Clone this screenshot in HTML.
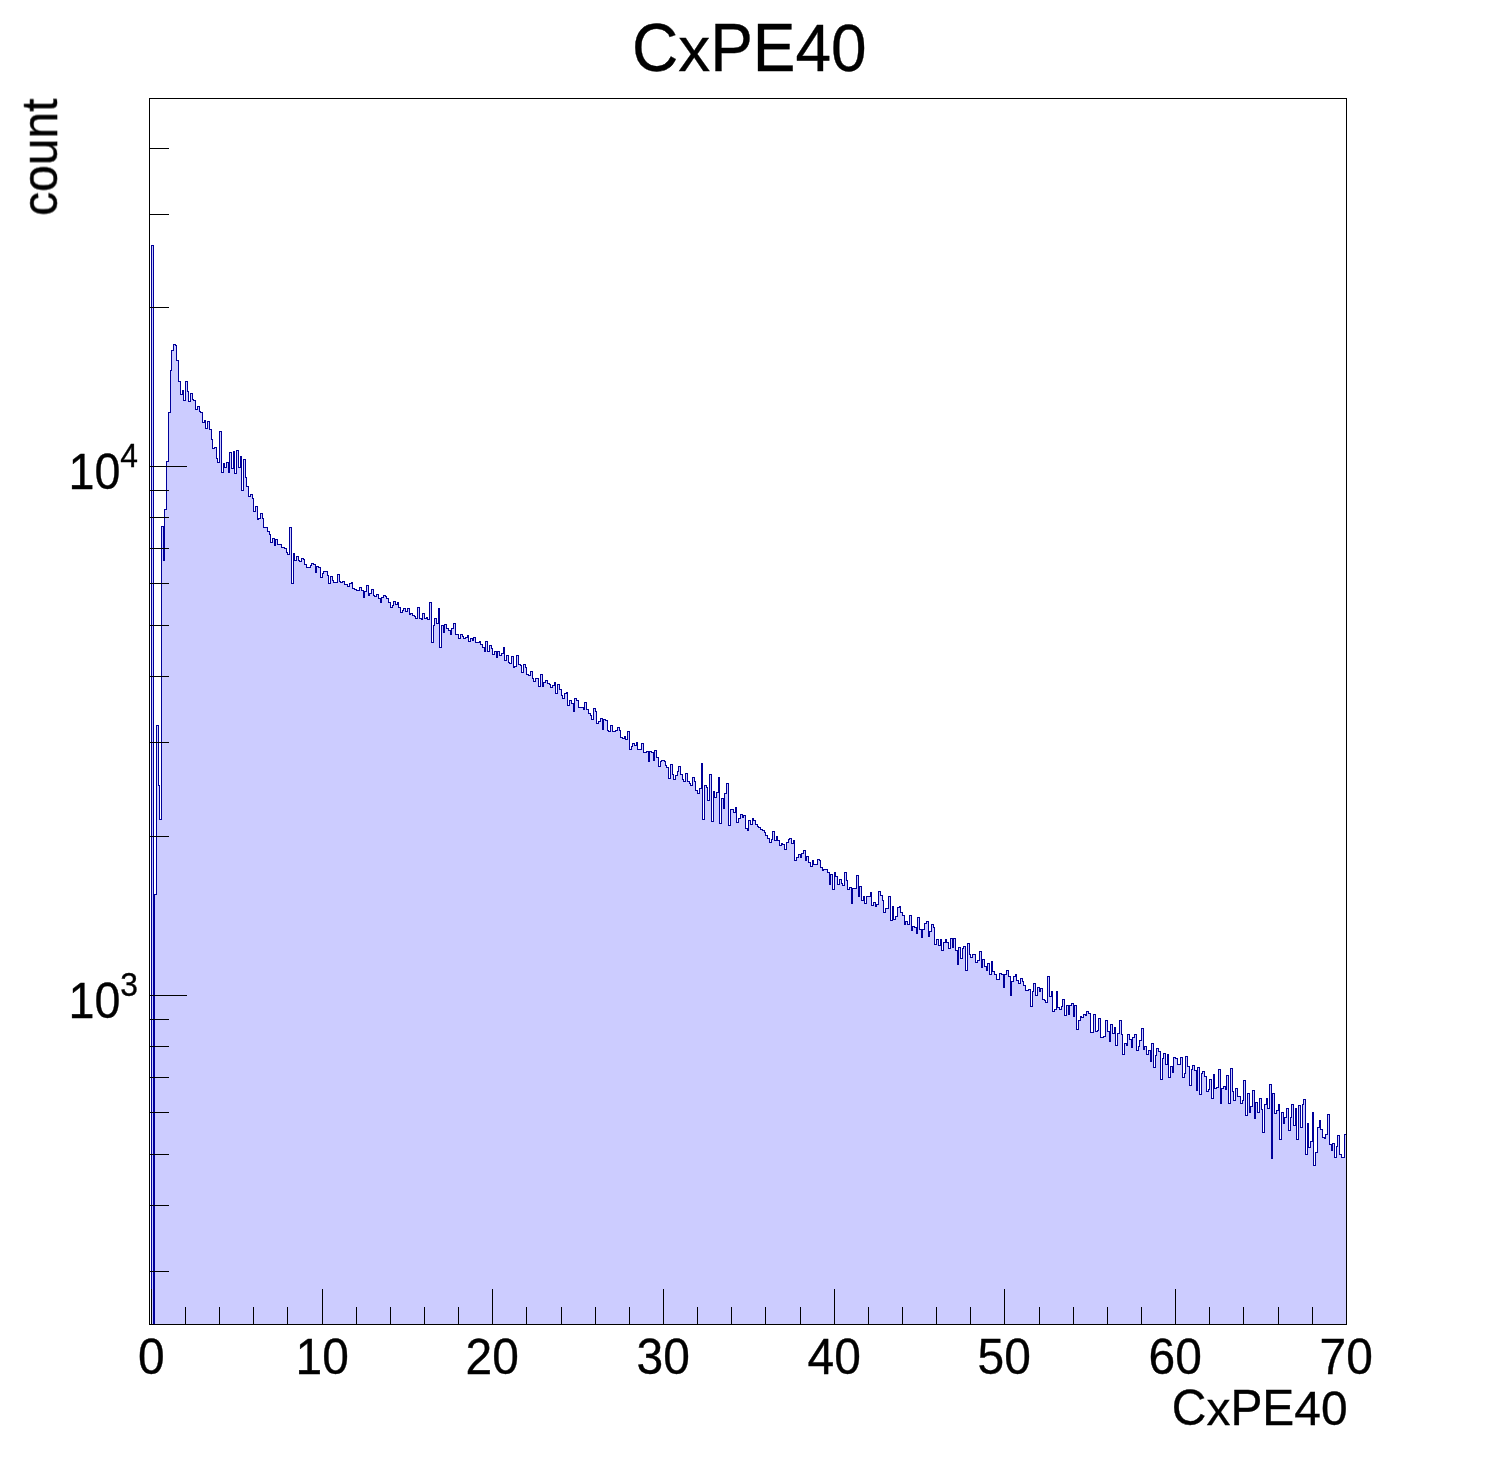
<!DOCTYPE html>
<html><head><meta charset="utf-8"><title>CxPE40</title>
<style>
html,body{margin:0;padding:0;background:#fff;}
body{width:1496px;height:1472px;overflow:hidden;}
svg{display:block;}
text{font-family:"Liberation Sans",sans-serif;fill:#000;stroke:#000;stroke-width:0.35px;}
</style></head><body>
<svg width="1496" height="1472" viewBox="0 0 1496 1472">
<rect width="1496" height="1472" fill="#fff"/>
<path d="M151.5 1324.5V245.5H153.5V1324.5H154.5V894.5H156.5V725.5H158.5V785.5H159.5V819.5H161.5V526.5H163.5V560.5H164.5V509.5H166.5V461.5H168.5V412.5H170.5V370.5H171.5V350.5H173.5V344.5H175.5V345.5H176.5V360.5H178.5V381.5H180.5V394.5H182.5V390.5H183.5V400.5H185.5V381.5H187.5V391.5H188.5V401.5H190.5V393.5H192.5V399.5H193.5V400.5H195.5V409.5H197.5V406.5H199.5V411.5H200.5V412.5H202.5V422.5H204.5V420.5H205.5V428.5H207.5V421.5H209.5V429.5H211.5V439.5H212.5V448.5H214.5V447.5H216.5V458.5H217.5V462.5H219.5V431.5H221.5V472.5H223.5V463.5H224.5V467.5H226.5V462.5H228.5V472.5H229.5V452.5H231.5V468.5H233.5V451.5H234.5V473.5H236.5V450.5H238.5V467.5H240.5V456.5H241.5V490.5H243.5V459.5H245.5V477.5H246.5V486.5H248.5V496.5H250.5V494.5H252.5V498.5H253.5V511.5H255.5V506.5H257.5V519.5H258.5V518.5H260.5V513.5H262.5V518.5H263.5V527.5H265.5V527.5H267.5V531.5H269.5V534.5H270.5V542.5H272.5V538.5H274.5V545.5H275.5V539.5H277.5V544.5H279.5V544.5H281.5V547.5H282.5V547.5H284.5V548.5H286.5V552.5H287.5V554.5H289.5V527.5H291.5V583.5H293.5V553.5H294.5V560.5H296.5V556.5H298.5V560.5H299.5V561.5H301.5V558.5H303.5V559.5H304.5V564.5H306.5V567.5H308.5V567.5H310.5V565.5H311.5V563.5H313.5V564.5H315.5V572.5H316.5V566.5H318.5V567.5H320.5V577.5H322.5V573.5H323.5V571.5H325.5V571.5H327.5V575.5H328.5V583.5H330.5V576.5H332.5V580.5H333.5V582.5H335.5V582.5H337.5V574.5H339.5V581.5H340.5V582.5H342.5V581.5H344.5V584.5H345.5V584.5H347.5V586.5H349.5V583.5H351.5V582.5H352.5V588.5H354.5V589.5H356.5V590.5H357.5V590.5H359.5V587.5H361.5V590.5H363.5V597.5H364.5V591.5H366.5V585.5H368.5V595.5H369.5V593.5H371.5V589.5H373.5V595.5H374.5V596.5H376.5V594.5H378.5V598.5H380.5V602.5H381.5V597.5H383.5V595.5H385.5V596.5H386.5V598.5H388.5V602.5H390.5V607.5H392.5V605.5H393.5V601.5H395.5V604.5H397.5V602.5H398.5V607.5H400.5V612.5H402.5V610.5H403.5V608.5H405.5V611.5H407.5V608.5H409.5V614.5H410.5V613.5H412.5V615.5H414.5V616.5H415.5V618.5H417.5V607.5H419.5V618.5H421.5V619.5H422.5V613.5H424.5V618.5H426.5V617.5H427.5V619.5H429.5V602.5H431.5V642.5H433.5V625.5H434.5V618.5H436.5V623.5H438.5V608.5H439.5V647.5H441.5V625.5H443.5V632.5H444.5V624.5H446.5V628.5H448.5V630.5H450.5V634.5H451.5V628.5H453.5V623.5H455.5V634.5H458.5V638.5H460.5V634.5H462.5V636.5H463.5V638.5H465.5V637.5H467.5V635.5H468.5V641.5H470.5V638.5H472.5V640.5H473.5V637.5H475.5V642.5H479.5V641.5H480.5V644.5H482.5V647.5H484.5V651.5H485.5V641.5H487.5V651.5H489.5V645.5H491.5V648.5H492.5V654.5H494.5V651.5H496.5V657.5H497.5V651.5H499.5V655.5H501.5V653.5H503.5V647.5H504.5V660.5H506.5V655.5H508.5V662.5H509.5V663.5H511.5V656.5H513.5V667.5H514.5V666.5H516.5V655.5H518.5V664.5H520.5V665.5H521.5V672.5H523.5V664.5H525.5V667.5H526.5V674.5H528.5V675.5H530.5V671.5H532.5V678.5H533.5V681.5H535.5V678.5H538.5V686.5H540.5V674.5H542.5V686.5H543.5V682.5H545.5V680.5H547.5V683.5H549.5V684.5H550.5V687.5H552.5V685.5H554.5V682.5H555.5V693.5H557.5V684.5H559.5V689.5H561.5V695.5H562.5V698.5H564.5V693.5H566.5V692.5H567.5V705.5H569.5V700.5H571.5V703.5H573.5V711.5H574.5V698.5H576.5V700.5H578.5V707.5H583.5V709.5H584.5V702.5H586.5V709.5H588.5V713.5H590.5V715.5H591.5V719.5H593.5V708.5H595.5V711.5H596.5V723.5H598.5V721.5H600.5V718.5H602.5V729.5H603.5V719.5H605.5V720.5H607.5V730.5H608.5V731.5H610.5V725.5H612.5V731.5H615.5V730.5H617.5V727.5H619.5V730.5H620.5V737.5H622.5V738.5H624.5V736.5H625.5V739.5H627.5V731.5H629.5V749.5H631.5V746.5H632.5V743.5H634.5V745.5H636.5V742.5H637.5V749.5H641.5V743.5H643.5V752.5H646.5V751.5H648.5V761.5H649.5V751.5H651.5V752.5H653.5V760.5H654.5V750.5H656.5V757.5H658.5V766.5H660.5V761.5H661.5V760.5H664.5V761.5H665.5V765.5H666.5V767.5H668.5V778.5H670.5V764.5H672.5V774.5H673.5V779.5H675.5V775.5H677.5V771.5H678.5V766.5H680.5V774.5H682.5V779.5H683.5V781.5H685.5V773.5H687.5V781.5H689.5V783.5H690.5V785.5H692.5V777.5H694.5V781.5H695.5V790.5H697.5V793.5H699.5V788.5H701.5V763.5H702.5V819.5H704.5V785.5H706.5V787.5H707.5V800.5H709.5V774.5H711.5V821.5H713.5V791.5H714.5V797.5H716.5V792.5H718.5V777.5H719.5V823.5H721.5V798.5H723.5V808.5H724.5V793.5H726.5V783.5H728.5V825.5H730.5V809.5H733.5V812.5H735.5V807.5H736.5V822.5H738.5V818.5H740.5V814.5H742.5V817.5H743.5V815.5H745.5V828.5H747.5V830.5H748.5V820.5H750.5V824.5H752.5V818.5H753.5V820.5H755.5V824.5H757.5V826.5H758.5V827.5H760.5V829.5H762.5V830.5H764.5V832.5H765.5V835.5H767.5V838.5H769.5V842.5H771.5V839.5H772.5V831.5H774.5V840.5H776.5V836.5H777.5V840.5H779.5V845.5H781.5V843.5H782.5V844.5H784.5V849.5H786.5V842.5H788.5V839.5H789.5V838.5H791.5V843.5H793.5V840.5H794.5V860.5H796.5V857.5H798.5V854.5H800.5V857.5H801.5V853.5H803.5V850.5H805.5V860.5H806.5V856.5H808.5V862.5H810.5V866.5H812.5V860.5H813.5V864.5H817.5V859.5H819.5V860.5H820.5V867.5H822.5V870.5H823.5V869.5H827.5V872.5H829.5V884.5H830.5V874.5H832.5V889.5H834.5V872.5H835.5V876.5H837.5V884.5H839.5V879.5H841.5V883.5H842.5V885.5H844.5V872.5H846.5V880.5H847.5V889.5H849.5V887.5H851.5V903.5H852.5V888.5H856.5V875.5H858.5V896.5H859.5V886.5H861.5V900.5H863.5V896.5H864.5V903.5H866.5V896.5H870.5V892.5H871.5V905.5H873.5V902.5H875.5V906.5H876.5V904.5H878.5V891.5H880.5V895.5H882.5V900.5H883.5V912.5H885.5V908.5H888.5V896.5H890.5V920.5H892.5V906.5H893.5V919.5H895.5V916.5H897.5V907.5H899.5V906.5H900.5V912.5H902.5V915.5H904.5V924.5H905.5V921.5H907.5V924.5H909.5V915.5H911.5V930.5H912.5V926.5H914.5V927.5H916.5V933.5H917.5V917.5H919.5V929.5H921.5V937.5H922.5V929.5H924.5V923.5H926.5V921.5H928.5V936.5H929.5V931.5H931.5V924.5H933.5V927.5H934.5V944.5H936.5V939.5H938.5V945.5H940.5V939.5H941.5V950.5H943.5V942.5H945.5V939.5H946.5V942.5H948.5V948.5H950.5V938.5H952.5V947.5H953.5V938.5H955.5V950.5H957.5V964.5H958.5V947.5H960.5V958.5H962.5V948.5H963.5V946.5H965.5V970.5H967.5V943.5H969.5V954.5H970.5V957.5H972.5V954.5H975.5V962.5H977.5V960.5H979.5V951.5H981.5V967.5H982.5V959.5H984.5V966.5H986.5V970.5H987.5V963.5H989.5V974.5H991.5V961.5H992.5V971.5H994.5V974.5H996.5V979.5H999.5V973.5H1001.5V974.5H1003.5V987.5H1004.5V974.5H1006.5V970.5H1008.5V976.5H1010.5V995.5H1011.5V981.5H1013.5V976.5H1015.5V974.5H1016.5V980.5H1018.5V983.5H1020.5V978.5H1022.5V981.5H1023.5V985.5H1025.5V990.5H1028.5V989.5H1030.5V1006.5H1032.5V991.5H1033.5V983.5H1035.5V995.5H1037.5V987.5H1039.5V991.5H1040.5V988.5H1042.5V999.5H1044.5V1000.5H1045.5V1002.5H1047.5V976.5H1049.5V996.5H1051.5V991.5H1052.5V1011.5H1054.5V1009.5H1056.5V991.5H1057.5V1007.5H1059.5V1009.5H1061.5V1006.5H1062.5V999.5H1064.5V1015.5H1066.5V1005.5H1068.5V1014.5H1069.5V1005.5H1071.5V1003.5H1073.5V1016.5H1074.5V1005.5H1076.5V1029.5H1078.5V1020.5H1080.5V1016.5H1081.5V1017.5H1083.5V1014.5H1085.5V1015.5H1086.5V1011.5H1088.5V1013.5H1090.5V1032.5H1093.5V1014.5H1095.5V1031.5H1097.5V1030.5H1098.5V1018.5H1100.5V1037.5H1103.5V1036.5H1105.5V1020.5H1107.5V1031.5H1109.5V1041.5H1110.5V1024.5H1112.5V1033.5H1114.5V1027.5H1115.5V1045.5H1117.5V1033.5H1119.5V1020.5H1121.5V1034.5H1122.5V1054.5H1124.5V1043.5H1126.5V1045.5H1127.5V1034.5H1129.5V1039.5H1131.5V1047.5H1132.5V1037.5H1134.5V1034.5H1136.5V1050.5H1138.5V1046.5H1139.5V1040.5H1141.5V1028.5H1143.5V1049.5H1144.5V1046.5H1146.5V1054.5H1148.5V1050.5H1150.5V1061.5H1151.5V1043.5H1153.5V1067.5H1155.5V1055.5H1156.5V1048.5H1158.5V1051.5H1160.5V1079.5H1162.5V1058.5H1163.5V1053.5H1165.5V1064.5H1167.5V1054.5H1168.5V1077.5H1170.5V1066.5H1172.5V1072.5H1173.5V1057.5H1175.5V1058.5H1177.5V1064.5H1180.5V1057.5H1182.5V1077.5H1184.5V1073.5H1185.5V1056.5H1187.5V1066.5H1189.5V1085.5H1191.5V1069.5H1192.5V1065.5H1194.5V1070.5H1196.5V1090.5H1197.5V1067.5H1199.5V1094.5H1201.5V1073.5H1202.5V1071.5H1204.5V1076.5H1206.5V1091.5H1208.5V1089.5H1209.5V1079.5H1211.5V1098.5H1213.5V1074.5H1214.5V1088.5H1216.5V1087.5H1218.5V1069.5H1220.5V1103.5H1221.5V1088.5H1223.5V1086.5H1225.5V1089.5H1226.5V1075.5H1228.5V1103.5H1230.5V1068.5H1232.5V1091.5H1233.5V1100.5H1235.5V1088.5H1237.5V1096.5H1240.5V1103.5H1242.5V1100.5H1243.5V1080.5H1245.5V1115.5H1247.5V1093.5H1249.5V1112.5H1250.5V1106.5H1252.5V1090.5H1254.5V1118.5H1255.5V1102.5H1257.5V1112.5H1259.5V1098.5H1261.5V1109.5H1262.5V1132.5H1264.5V1104.5H1266.5V1098.5H1267.5V1108.5H1269.5V1084.5H1271.5V1158.5H1272.5V1093.5H1274.5V1113.5H1276.5V1110.5H1278.5V1104.5H1279.5V1139.5H1281.5V1112.5H1283.5V1123.5H1284.5V1117.5H1286.5V1108.5H1288.5V1130.5H1290.5V1117.5H1291.5V1104.5H1293.5V1125.5H1295.5V1108.5H1296.5V1139.5H1298.5V1105.5H1300.5V1127.5H1302.5V1104.5H1303.5V1099.5H1305.5V1154.5H1307.5V1123.5H1308.5V1147.5H1310.5V1141.5H1312.5V1112.5H1313.5V1165.5H1315.5V1152.5H1317.5V1127.5H1319.5V1120.5H1320.5V1129.5H1322.5V1137.5H1324.5V1138.5H1325.5V1134.5H1327.5V1114.5H1329.5V1144.5H1331.5V1150.5H1332.5V1143.5H1334.5V1157.5H1336.5V1146.5H1337.5V1135.5H1339.5V1154.5H1341.5V1157.5H1344.5V1134.5H1346.5V1324.5Z" fill="#ccccff" stroke="none" shape-rendering="crispEdges"/>
<path d="M151.5 1324.5V245.5H153.5V1324.5H154.5V894.5H156.5V725.5H158.5V785.5H159.5V819.5H161.5V526.5H163.5V560.5H164.5V509.5H166.5V461.5H168.5V412.5H170.5V370.5H171.5V350.5H173.5V344.5H175.5V345.5H176.5V360.5H178.5V381.5H180.5V394.5H182.5V390.5H183.5V400.5H185.5V381.5H187.5V391.5H188.5V401.5H190.5V393.5H192.5V399.5H193.5V400.5H195.5V409.5H197.5V406.5H199.5V411.5H200.5V412.5H202.5V422.5H204.5V420.5H205.5V428.5H207.5V421.5H209.5V429.5H211.5V439.5H212.5V448.5H214.5V447.5H216.5V458.5H217.5V462.5H219.5V431.5H221.5V472.5H223.5V463.5H224.5V467.5H226.5V462.5H228.5V472.5H229.5V452.5H231.5V468.5H233.5V451.5H234.5V473.5H236.5V450.5H238.5V467.5H240.5V456.5H241.5V490.5H243.5V459.5H245.5V477.5H246.5V486.5H248.5V496.5H250.5V494.5H252.5V498.5H253.5V511.5H255.5V506.5H257.5V519.5H258.5V518.5H260.5V513.5H262.5V518.5H263.5V527.5H265.5V527.5H267.5V531.5H269.5V534.5H270.5V542.5H272.5V538.5H274.5V545.5H275.5V539.5H277.5V544.5H279.5V544.5H281.5V547.5H282.5V547.5H284.5V548.5H286.5V552.5H287.5V554.5H289.5V527.5H291.5V583.5H293.5V553.5H294.5V560.5H296.5V556.5H298.5V560.5H299.5V561.5H301.5V558.5H303.5V559.5H304.5V564.5H306.5V567.5H308.5V567.5H310.5V565.5H311.5V563.5H313.5V564.5H315.5V572.5H316.5V566.5H318.5V567.5H320.5V577.5H322.5V573.5H323.5V571.5H325.5V571.5H327.5V575.5H328.5V583.5H330.5V576.5H332.5V580.5H333.5V582.5H335.5V582.5H337.5V574.5H339.5V581.5H340.5V582.5H342.5V581.5H344.5V584.5H345.5V584.5H347.5V586.5H349.5V583.5H351.5V582.5H352.5V588.5H354.5V589.5H356.5V590.5H357.5V590.5H359.5V587.5H361.5V590.5H363.5V597.5H364.5V591.5H366.5V585.5H368.5V595.5H369.5V593.5H371.5V589.5H373.5V595.5H374.5V596.5H376.5V594.5H378.5V598.5H380.5V602.5H381.5V597.5H383.5V595.5H385.5V596.5H386.5V598.5H388.5V602.5H390.5V607.5H392.5V605.5H393.5V601.5H395.5V604.5H397.5V602.5H398.5V607.5H400.5V612.5H402.5V610.5H403.5V608.5H405.5V611.5H407.5V608.5H409.5V614.5H410.5V613.5H412.5V615.5H414.5V616.5H415.5V618.5H417.5V607.5H419.5V618.5H421.5V619.5H422.5V613.5H424.5V618.5H426.5V617.5H427.5V619.5H429.5V602.5H431.5V642.5H433.5V625.5H434.5V618.5H436.5V623.5H438.5V608.5H439.5V647.5H441.5V625.5H443.5V632.5H444.5V624.5H446.5V628.5H448.5V630.5H450.5V634.5H451.5V628.5H453.5V623.5H455.5V634.5H458.5V638.5H460.5V634.5H462.5V636.5H463.5V638.5H465.5V637.5H467.5V635.5H468.5V641.5H470.5V638.5H472.5V640.5H473.5V637.5H475.5V642.5H479.5V641.5H480.5V644.5H482.5V647.5H484.5V651.5H485.5V641.5H487.5V651.5H489.5V645.5H491.5V648.5H492.5V654.5H494.5V651.5H496.5V657.5H497.5V651.5H499.5V655.5H501.5V653.5H503.5V647.5H504.5V660.5H506.5V655.5H508.5V662.5H509.5V663.5H511.5V656.5H513.5V667.5H514.5V666.5H516.5V655.5H518.5V664.5H520.5V665.5H521.5V672.5H523.5V664.5H525.5V667.5H526.5V674.5H528.5V675.5H530.5V671.5H532.5V678.5H533.5V681.5H535.5V678.5H538.5V686.5H540.5V674.5H542.5V686.5H543.5V682.5H545.5V680.5H547.5V683.5H549.5V684.5H550.5V687.5H552.5V685.5H554.5V682.5H555.5V693.5H557.5V684.5H559.5V689.5H561.5V695.5H562.5V698.5H564.5V693.5H566.5V692.5H567.5V705.5H569.5V700.5H571.5V703.5H573.5V711.5H574.5V698.5H576.5V700.5H578.5V707.5H583.5V709.5H584.5V702.5H586.5V709.5H588.5V713.5H590.5V715.5H591.5V719.5H593.5V708.5H595.5V711.5H596.5V723.5H598.5V721.5H600.5V718.5H602.5V729.5H603.5V719.5H605.5V720.5H607.5V730.5H608.5V731.5H610.5V725.5H612.5V731.5H615.5V730.5H617.5V727.5H619.5V730.5H620.5V737.5H622.5V738.5H624.5V736.5H625.5V739.5H627.5V731.5H629.5V749.5H631.5V746.5H632.5V743.5H634.5V745.5H636.5V742.5H637.5V749.5H641.5V743.5H643.5V752.5H646.5V751.5H648.5V761.5H649.5V751.5H651.5V752.5H653.5V760.5H654.5V750.5H656.5V757.5H658.5V766.5H660.5V761.5H661.5V760.5H664.5V761.5H665.5V765.5H666.5V767.5H668.5V778.5H670.5V764.5H672.5V774.5H673.5V779.5H675.5V775.5H677.5V771.5H678.5V766.5H680.5V774.5H682.5V779.5H683.5V781.5H685.5V773.5H687.5V781.5H689.5V783.5H690.5V785.5H692.5V777.5H694.5V781.5H695.5V790.5H697.5V793.5H699.5V788.5H701.5V763.5H702.5V819.5H704.5V785.5H706.5V787.5H707.5V800.5H709.5V774.5H711.5V821.5H713.5V791.5H714.5V797.5H716.5V792.5H718.5V777.5H719.5V823.5H721.5V798.5H723.5V808.5H724.5V793.5H726.5V783.5H728.5V825.5H730.5V809.5H733.5V812.5H735.5V807.5H736.5V822.5H738.5V818.5H740.5V814.5H742.5V817.5H743.5V815.5H745.5V828.5H747.5V830.5H748.5V820.5H750.5V824.5H752.5V818.5H753.5V820.5H755.5V824.5H757.5V826.5H758.5V827.5H760.5V829.5H762.5V830.5H764.5V832.5H765.5V835.5H767.5V838.5H769.5V842.5H771.5V839.5H772.5V831.5H774.5V840.5H776.5V836.5H777.5V840.5H779.5V845.5H781.5V843.5H782.5V844.5H784.5V849.5H786.5V842.5H788.5V839.5H789.5V838.5H791.5V843.5H793.5V840.5H794.5V860.5H796.5V857.5H798.5V854.5H800.5V857.5H801.5V853.5H803.5V850.5H805.5V860.5H806.5V856.5H808.5V862.5H810.5V866.5H812.5V860.5H813.5V864.5H817.5V859.5H819.5V860.5H820.5V867.5H822.5V870.5H823.5V869.5H827.5V872.5H829.5V884.5H830.5V874.5H832.5V889.5H834.5V872.5H835.5V876.5H837.5V884.5H839.5V879.5H841.5V883.5H842.5V885.5H844.5V872.5H846.5V880.5H847.5V889.5H849.5V887.5H851.5V903.5H852.5V888.5H856.5V875.5H858.5V896.5H859.5V886.5H861.5V900.5H863.5V896.5H864.5V903.5H866.5V896.5H870.5V892.5H871.5V905.5H873.5V902.5H875.5V906.5H876.5V904.5H878.5V891.5H880.5V895.5H882.5V900.5H883.5V912.5H885.5V908.5H888.5V896.5H890.5V920.5H892.5V906.5H893.5V919.5H895.5V916.5H897.5V907.5H899.5V906.5H900.5V912.5H902.5V915.5H904.5V924.5H905.5V921.5H907.5V924.5H909.5V915.5H911.5V930.5H912.5V926.5H914.5V927.5H916.5V933.5H917.5V917.5H919.5V929.5H921.5V937.5H922.5V929.5H924.5V923.5H926.5V921.5H928.5V936.5H929.5V931.5H931.5V924.5H933.5V927.5H934.5V944.5H936.5V939.5H938.5V945.5H940.5V939.5H941.5V950.5H943.5V942.5H945.5V939.5H946.5V942.5H948.5V948.5H950.5V938.5H952.5V947.5H953.5V938.5H955.5V950.5H957.5V964.5H958.5V947.5H960.5V958.5H962.5V948.5H963.5V946.5H965.5V970.5H967.5V943.5H969.5V954.5H970.5V957.5H972.5V954.5H975.5V962.5H977.5V960.5H979.5V951.5H981.5V967.5H982.5V959.5H984.5V966.5H986.5V970.5H987.5V963.5H989.5V974.5H991.5V961.5H992.5V971.5H994.5V974.5H996.5V979.5H999.5V973.5H1001.5V974.5H1003.5V987.5H1004.5V974.5H1006.5V970.5H1008.5V976.5H1010.5V995.5H1011.5V981.5H1013.5V976.5H1015.5V974.5H1016.5V980.5H1018.5V983.5H1020.5V978.5H1022.5V981.5H1023.5V985.5H1025.5V990.5H1028.5V989.5H1030.5V1006.5H1032.5V991.5H1033.5V983.5H1035.5V995.5H1037.5V987.5H1039.5V991.5H1040.5V988.5H1042.5V999.5H1044.5V1000.5H1045.5V1002.5H1047.5V976.5H1049.5V996.5H1051.5V991.5H1052.5V1011.5H1054.5V1009.5H1056.5V991.5H1057.5V1007.5H1059.5V1009.5H1061.5V1006.5H1062.5V999.5H1064.5V1015.5H1066.5V1005.5H1068.5V1014.5H1069.5V1005.5H1071.5V1003.5H1073.5V1016.5H1074.5V1005.5H1076.5V1029.5H1078.5V1020.5H1080.5V1016.5H1081.5V1017.5H1083.5V1014.5H1085.5V1015.5H1086.5V1011.5H1088.5V1013.5H1090.5V1032.5H1093.5V1014.5H1095.5V1031.5H1097.5V1030.5H1098.5V1018.5H1100.5V1037.5H1103.5V1036.5H1105.5V1020.5H1107.5V1031.5H1109.5V1041.5H1110.5V1024.5H1112.5V1033.5H1114.5V1027.5H1115.5V1045.5H1117.5V1033.5H1119.5V1020.5H1121.5V1034.5H1122.5V1054.5H1124.5V1043.5H1126.5V1045.5H1127.5V1034.5H1129.5V1039.5H1131.5V1047.5H1132.5V1037.5H1134.5V1034.5H1136.5V1050.5H1138.5V1046.5H1139.5V1040.5H1141.5V1028.5H1143.5V1049.5H1144.5V1046.5H1146.5V1054.5H1148.5V1050.5H1150.5V1061.5H1151.5V1043.5H1153.5V1067.5H1155.5V1055.5H1156.5V1048.5H1158.5V1051.5H1160.5V1079.5H1162.5V1058.5H1163.5V1053.5H1165.5V1064.5H1167.5V1054.5H1168.5V1077.5H1170.5V1066.5H1172.5V1072.5H1173.5V1057.5H1175.5V1058.5H1177.5V1064.5H1180.5V1057.5H1182.5V1077.5H1184.5V1073.5H1185.5V1056.5H1187.5V1066.5H1189.5V1085.5H1191.5V1069.5H1192.5V1065.5H1194.5V1070.5H1196.5V1090.5H1197.5V1067.5H1199.5V1094.5H1201.5V1073.5H1202.5V1071.5H1204.5V1076.5H1206.5V1091.5H1208.5V1089.5H1209.5V1079.5H1211.5V1098.5H1213.5V1074.5H1214.5V1088.5H1216.5V1087.5H1218.5V1069.5H1220.5V1103.5H1221.5V1088.5H1223.5V1086.5H1225.5V1089.5H1226.5V1075.5H1228.5V1103.5H1230.5V1068.5H1232.5V1091.5H1233.5V1100.5H1235.5V1088.5H1237.5V1096.5H1240.5V1103.5H1242.5V1100.5H1243.5V1080.5H1245.5V1115.5H1247.5V1093.5H1249.5V1112.5H1250.5V1106.5H1252.5V1090.5H1254.5V1118.5H1255.5V1102.5H1257.5V1112.5H1259.5V1098.5H1261.5V1109.5H1262.5V1132.5H1264.5V1104.5H1266.5V1098.5H1267.5V1108.5H1269.5V1084.5H1271.5V1158.5H1272.5V1093.5H1274.5V1113.5H1276.5V1110.5H1278.5V1104.5H1279.5V1139.5H1281.5V1112.5H1283.5V1123.5H1284.5V1117.5H1286.5V1108.5H1288.5V1130.5H1290.5V1117.5H1291.5V1104.5H1293.5V1125.5H1295.5V1108.5H1296.5V1139.5H1298.5V1105.5H1300.5V1127.5H1302.5V1104.5H1303.5V1099.5H1305.5V1154.5H1307.5V1123.5H1308.5V1147.5H1310.5V1141.5H1312.5V1112.5H1313.5V1165.5H1315.5V1152.5H1317.5V1127.5H1319.5V1120.5H1320.5V1129.5H1322.5V1137.5H1324.5V1138.5H1325.5V1134.5H1327.5V1114.5H1329.5V1144.5H1331.5V1150.5H1332.5V1143.5H1334.5V1157.5H1336.5V1146.5H1337.5V1135.5H1339.5V1154.5H1341.5V1157.5H1344.5V1134.5H1346.5V1324.5" fill="none" stroke="#000099" stroke-width="1" shape-rendering="crispEdges"/>
<rect x="149.5" y="98.5" width="1197.0" height="1226.0" fill="none" stroke="#000" stroke-width="1" shape-rendering="crispEdges"/>
<path d="M149.5 1271.5H169M149.5 1205.5H169M149.5 1154.5H169M149.5 1112.5H169M149.5 1077.5H169M149.5 1046.5H169M149.5 1019.5H169M149.5 995.5H187M149.5 836.5H169M149.5 742.5H169M149.5 676.5H169M149.5 625.5H169M149.5 583.5H169M149.5 548.5H169M149.5 517.5H169M149.5 490.5H169M149.5 466.5H187M149.5 307.5H169M149.5 214.5H169M149.5 148.5H169M151.5 1324.5V1289.0M185.5 1324.5V1307.0M219.5 1324.5V1307.0M253.5 1324.5V1307.0M287.5 1324.5V1307.0M322.5 1324.5V1289.0M356.5 1324.5V1307.0M390.5 1324.5V1307.0M424.5 1324.5V1307.0M458.5 1324.5V1307.0M492.5 1324.5V1289.0M526.5 1324.5V1307.0M561.5 1324.5V1307.0M595.5 1324.5V1307.0M629.5 1324.5V1307.0M663.5 1324.5V1289.0M697.5 1324.5V1307.0M731.5 1324.5V1307.0M765.5 1324.5V1307.0M800.5 1324.5V1307.0M834.5 1324.5V1289.0M868.5 1324.5V1307.0M902.5 1324.5V1307.0M936.5 1324.5V1307.0M970.5 1324.5V1307.0M1004.5 1324.5V1289.0M1039.5 1324.5V1307.0M1073.5 1324.5V1307.0M1107.5 1324.5V1307.0M1141.5 1324.5V1307.0M1175.5 1324.5V1289.0M1209.5 1324.5V1307.0M1243.5 1324.5V1307.0M1278.5 1324.5V1307.0M1312.5 1324.5V1307.0M1346.5 1324.5V1289.0" fill="none" stroke="#000" stroke-width="1" shape-rendering="crispEdges"/>
<g opacity="0.999">
<text transform="translate(151.2 1373.6) scale(0.975 1)" font-size="49.15" text-anchor="middle">0</text>
<text transform="translate(322.2 1373.6) scale(0.975 1)" font-size="49.15" text-anchor="middle">10</text>
<text transform="translate(492.2 1373.6) scale(0.975 1)" font-size="49.15" text-anchor="middle">20</text>
<text transform="translate(663.2 1373.6) scale(0.975 1)" font-size="49.15" text-anchor="middle">30</text>
<text transform="translate(834.2 1373.6) scale(0.975 1)" font-size="49.15" text-anchor="middle">40</text>
<text transform="translate(1004.2 1373.6) scale(0.975 1)" font-size="49.15" text-anchor="middle">50</text>
<text transform="translate(1175.2 1373.6) scale(0.975 1)" font-size="49.15" text-anchor="middle">60</text>
<text transform="translate(1346.2 1373.6) scale(0.975 1)" font-size="49.15" text-anchor="middle">70</text>
<text transform="translate(68.6 1017.5) scale(0.95 1)" font-size="49.15" text-anchor="start">10</text>
<text transform="translate(120.2 995.8) scale(0.95 1)" font-size="33.5" text-anchor="start">3</text>
<text transform="translate(68.6 488.5) scale(0.95 1)" font-size="49.15" text-anchor="start">10</text>
<text transform="translate(120.2 466.8) scale(0.95 1)" font-size="33.5" text-anchor="start">4</text>
<text transform="translate(1171.87 1425.4) scale(0.959 1)" font-size="49.95" text-anchor="start">C</text>
<text transform="translate(1206.47 1425.4) scale(0.959 0.94)" font-size="49.95" text-anchor="start">x</text>
<text transform="translate(1230.42 1425.4) scale(0.959 1)" font-size="49.95" text-anchor="start">PE</text>
<text transform="translate(1294.32 1425.4) scale(0.959 0.978)" font-size="49.95" text-anchor="start">40</text>
<text transform="translate(57.1 98.6) rotate(-90) scale(0.975 1)" font-size="49.15" text-anchor="end">count</text>
<text transform="translate(631.95 71.1) scale(0.945 1)" font-size="67.7" text-anchor="start">C</text>
<text transform="translate(678.15 71.1) scale(0.945 0.94)" font-size="67.7" text-anchor="start">x</text>
<text transform="translate(710.14 71.1) scale(0.945 1)" font-size="67.7" text-anchor="start">PE</text>
<text transform="translate(795.49 71.1) scale(0.945 0.978)" font-size="67.7" text-anchor="start">40</text>
</g>
</svg>
</body></html>
